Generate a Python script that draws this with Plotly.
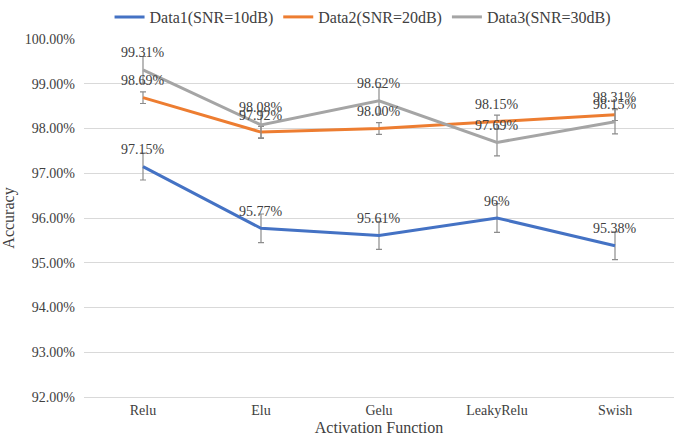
import plotly.graph_objects as go

categories = ["Relu", "Elu", "Gelu", "LeakyRelu", "Swish"]
data1 = [97.15, 95.77, 95.61, 96.00, 95.38]
data2 = [98.69, 97.92, 98.00, 98.15, 98.31]
data3 = [99.31, 98.08, 98.62, 97.69, 98.15]
err1 = [0.3, 0.32, 0.31, 0.32, 0.31]
err2 = [0.13, 0.13, 0.13, 0.15, 0.13]
err3 = [0.3, 0.3, 0.3, 0.3, 0.27]
labels1 = ["97.15%", "95.77%", "95.61%", "96%", "95.38%"]
labels2 = ["98.69%", "97.92%", "98.00%", "98.15%", "98.31%"]
labels3 = ["99.31%", "98.08%", "98.62%", "97.69%", "98.15%"]
names = ["Data1(SNR=10dB)", "Data2(SNR=20dB)", "Data3(SNR=30dB)"]
colors = ["#4472C4", "#ED7D31", "#A5A5A5"]

font_family = "Liberation Serif"
text_color = "#404040"

fig = go.Figure()
for vals, errs, labs, name, col in zip([data1, data2, data3], [err1, err2, err3],
                                       [labels1, labels2, labels3], names, colors):
    fig.add_trace(go.Scatter(
        x=categories, y=vals, name=name, mode="lines",
        line=dict(color=col, width=3),
        error_y=dict(type="data", array=errs, visible=True, color="#8c8c8c",
                     thickness=1.2, width=3),
    ))
    for c, v, t in zip(categories, vals, labs):
        fig.add_annotation(x=c, y=v, text=t, showarrow=False, yshift=17,
                           font=dict(family=font_family, size=14, color=text_color))

fig.update_layout(
    width=685, height=448,
    margin=dict(l=84, r=11, t=39, b=51, autoexpand=False),
    paper_bgcolor="white", plot_bgcolor="white",
    font=dict(family=font_family, size=14, color=text_color),
    legend=dict(orientation="h", x=0.53, xanchor="center", xref="container",
                y=1.0, yanchor="top", yref="container",
                font=dict(family=font_family, size=16, color=text_color),
                itemwidth=30, tracegroupgap=0, bgcolor="rgba(0,0,0,0)"),
    showlegend=True,
)
fig.update_xaxes(range=[-0.5, 4.5], showgrid=False, showline=True, linecolor="#d9d9d9",
                 linewidth=1, ticks="", tickfont=dict(size=14, color=text_color),
                 automargin=False,
                 title=dict(text="Activation Function",
                            font=dict(family=font_family, size=16, color=text_color),
                            standoff=5))
fig.update_yaxes(range=[92, 100.001], dtick=1, tick0=92,
                 tickformat=".2f", ticksuffix="%", automargin=False,
                 showgrid=True, gridcolor="#d9d9d9", gridwidth=1, zeroline=False,
                 showline=False, ticks="", tickfont=dict(size=14, color=text_color),
                 ticklabelstandoff=8,
                 title=dict(text="Accuracy",
                            font=dict(family=font_family, size=16, color=text_color),
                            standoff=12))

fig.write_html("out.html", config={"displayModeBar": False},
               post_script="document.body.style.margin='0';document.body.style.padding='0';")
